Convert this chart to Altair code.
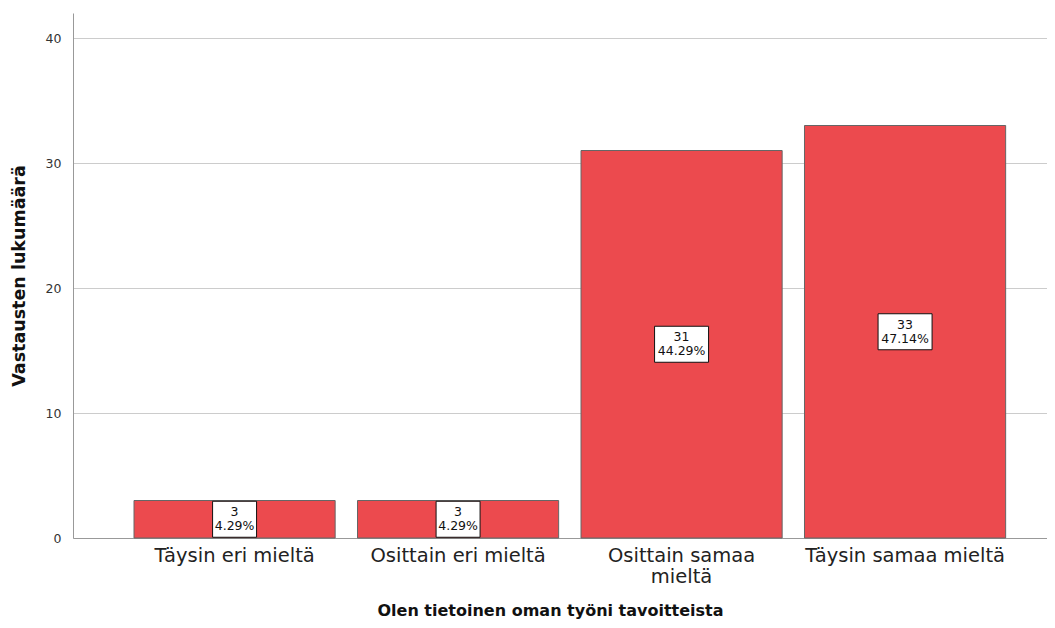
import altair as alt
import pandas as pd

categories = ["Täysin eri mieltä", "Osittain eri mieltä", "Osittain samaa mieltä", "Täysin samaa mieltä"]
counts = [3, 3, 31, 33]
percents = ["4.29%", "4.29%", "44.29%", "47.14%"]

df = pd.DataFrame({"cat": categories, "count": counts, "pct": percents})

FONT = "DejaVu Sans"
BAR_COLOR = "#ec4a4e"

x_enc = alt.X(
    "cat:N",
    sort=None,
    scale=alt.Scale(paddingInner=0.1, paddingOuter=0.229, align=0.596),
    axis=alt.Axis(
        title="Olen tietoinen oman työni tavoitteista",
        labelAngle=0,
        labelFont=FONT,
        labelFontSize=19.5,
        labelColor="#222222",
        labelPadding=8,
        labelLimit=300,
        labelLineHeight=21,
        labelExpr="datum.label == 'Osittain samaa mieltä' ? ['Osittain samaa', 'mieltä'] : datum.label",
        ticks=False,
        domainColor="#999999",
        grid=False,
        titleFont=FONT,
        titleFontSize=16,
        titleFontWeight="bold",
        titleColor="#111111",
        titleX=477,
        titleY=64,
        titleAlign="center",
        titleBaseline="top",
    ),
)

y_scale = alt.Scale(domain=[0, 42], nice=False)

bars = alt.Chart(df).mark_bar(
    color=BAR_COLOR, stroke="#666666", strokeWidth=1
).encode(
    x=x_enc,
    y=alt.Y(
        "count:Q",
        scale=y_scale,
        axis=alt.Axis(
            title="Vastausten lukumäärä",
            values=[0, 10, 20, 30, 40],
            labelFont=FONT,
            labelFontSize=12.5,
            labelColor="#333333",
            labelPadding=12,
            ticks=False,
            domainColor="#999999",
            gridColor="#cccccc",
            titleFont=FONT,
            titleFontSize=17.5,
            titleFontWeight="bold",
            titleColor="#111111",
            titlePadding=17,
        ),
    ),
)

small_box = "M-1.222,-1H1.222V1H-1.222Z"
big_box = "M-1.5,-1H1.5V1H-1.5Z"

base = alt.Chart(df).transform_calculate(
    mid="datum.count / 2",
    lab="datum.count + '\\n' + datum.pct",
)

boxes = base.mark_point(
    filled=True, fill="white", stroke="#111111", strokeWidth=1, opacity=1, size=1296
).encode(
    x=alt.X("cat:N", sort=None),
    y=alt.Y("mid:Q", scale=y_scale),
    shape=alt.condition("datum.count < 10", alt.value(small_box), alt.value(big_box)),
)

texts = base.mark_text(
    font=FONT, fontSize=12.5, lineBreak="\n", lineHeight=14, color="#111111",
    baseline="middle", dy=-7
).encode(
    x=alt.X("cat:N", sort=None),
    y=alt.Y("mid:Q", scale=y_scale),
    text="lab:N",
)

chart = alt.layer(bars, boxes, texts).properties(
    width=974,
    height=525,
    background="white",
    autosize=alt.AutoSizeParams(type="none"),
    padding={"left": 65, "top": 5, "right": 0, "bottom": 82},
).configure_view(strokeWidth=0, stroke="transparent")

chart.save("out.html", embed_options={"renderer": "svg", "actions": False})
